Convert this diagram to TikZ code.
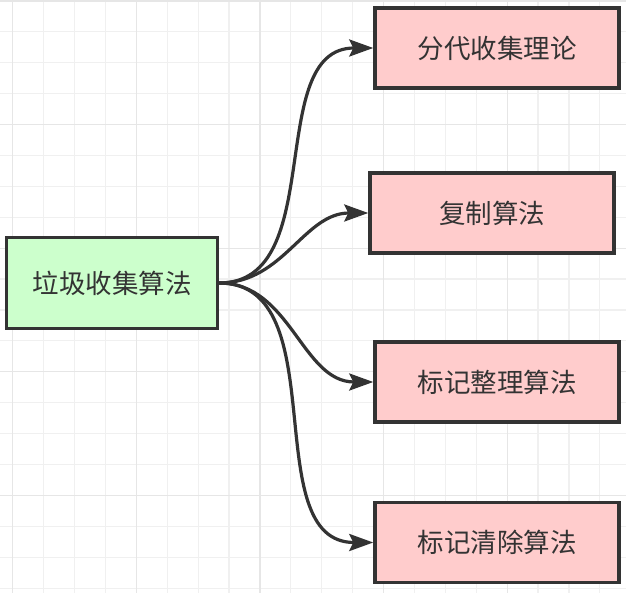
\documentclass[tikz,border=0pt]{standalone}
\usepackage{fontspec}
\setmainfont{Noto Sans CJK SC}
\usetikzlibrary{arrows.meta}
\definecolor{linegray}{HTML}{333333}
\definecolor{rootfill}{HTML}{CCFFCC}
\definecolor{leaffill}{HTML}{FFCCCC}
\definecolor{gridminor}{HTML}{F0F0F0}
\definecolor{gridmajor}{HTML}{E6E6E6}
\begin{document}
\begin{tikzpicture}[x=1pt,y=-1pt,
    box/.style={draw=linegray, line width=3.5pt, inner sep=0pt, text=linegray,
      font=\fontsize{26.5}{30}\selectfont},
    root/.style={box, fill=rootfill, minimum width=211pt, minimum height=91pt},
    leaf/.style={box, fill=leaffill, minimum width=244pt, minimum height=80pt},
    link/.style={draw=linegray, line width=3.2pt, -{Stealth[length=24pt,width=17pt,inset=4pt]}}]
    \useasboundingbox (0,0) rectangle (626,593);
    \fill[white] (0,0) rectangle (626,593);

    % 背景网格
    \foreach \k in {0,...,20} {
        \draw[gridminor, line width=1.2pt] (12.7+30.9*\k,0) -- (12.7+30.9*\k,593);
        \draw[gridminor, line width=1.2pt] (0,1+30.9*\k) -- (626,1+30.9*\k);
    }
    \foreach \k in {0,...,5} {
        \draw[gridmajor, line width=1.2pt] (12.7+123.6*\k,0) -- (12.7+123.6*\k,593);
        \draw[gridmajor, line width=1.2pt] (0,1+123.6*\k) -- (626,1+123.6*\k);
    }

    % 节点
    \node[root] (gc) at (112,283) {垃圾收集算法};
    \node[leaf] (gen) at (497,48) {分代收集理论};
    \node[leaf] (copy) at (492,213) {复制算法};
    \node[leaf] (compact) at (497,382) {标记整理算法};
    \node[leaf] (sweep) at (497,542.5) {标记清除算法};

    % 连线
    \foreach \t in {gen,copy,compact,sweep}
        \draw[link] (gc.east) to[out=0,in=180] (\t.west);
\end{tikzpicture}
\end{document}
